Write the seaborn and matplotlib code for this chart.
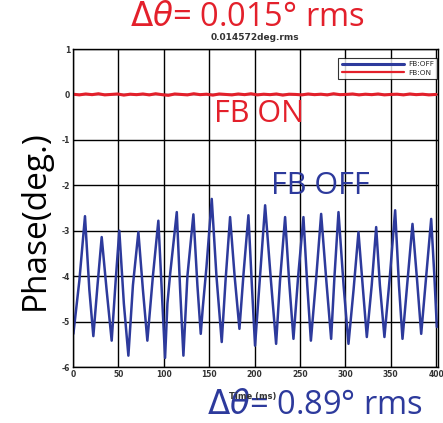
import matplotlib
matplotlib.use("Agg")
import matplotlib.pyplot as plt
import seaborn as sns
import pandas as pd

# ---- data ----
off_time = [0.4, 7, 13.2, 18, 22.4, 27, 31.6, 37, 42.6, 47, 51, 56, 61, 66, 72, 77, 81.9, 88, 94,
            101.4, 104, 107, 114.3, 118, 121.6, 126, 132.6, 137, 140.7, 143, 147, 152.8, 158,
            163.8, 168, 173, 178, 183.3, 188, 193.2, 197, 200.5, 206, 211.6, 218, 223.7, 228,
            233.6, 238, 242.8, 248, 253.8, 258, 262, 268, 273.3, 279, 284.3, 288, 292.4, 298,
            303.4, 309, 314.4, 319, 323.6, 329, 333.9, 338, 343, 349, 354.8, 359, 362.9, 368,
            373.9, 379, 383.5, 389, 394.5, 398, 400.7]
off_value = [-5.27, -4.1, -2.68, -4.3, -5.32, -4.2, -3.14, -4.3, -5.42, -4.1, -3.0, -4.6, -5.75,
             -4.2, -3.03, -4.3, -5.42, -4.0, -2.78, -5.8, -4.6, -3.95, -2.59, -4.3, -5.75, -4.0,
             -2.64, -4.2, -5.27, -4.68, -3.8, -2.30, -4.0, -5.45, -4.1, -2.70, -4.0, -5.16, -3.9,
             -2.66, -4.2, -5.53, -4.0, -2.44, -4.1, -5.49, -4.1, -2.70, -4.1, -5.38, -4.0, -2.70,
             -4.2, -5.42, -4.0, -2.63, -4.1, -5.38, -4.0, -2.59, -4.2, -5.49, -4.3, -3.03, -4.2,
             -5.34, -4.2, -2.92, -4.2, -5.34, -4.0, -2.55, -4.2, -5.38, -4.2, -2.85, -4.1, -5.27,
             -4.0, -2.74, -4.0, -5.12]
on_time = [0, 7, 14, 21, 28, 35, 42, 49, 56, 63, 70, 77, 84, 91, 98, 105, 112, 119, 126, 133,
           140, 147, 154, 161, 168, 175, 182, 189, 196, 203, 210, 217, 224, 231, 238, 245, 252,
           259, 266, 273, 280, 287, 294, 301, 308, 315, 322, 329, 336, 343, 350, 357, 364, 371,
           378, 385, 392, 400]
on_value = [0.005, -0.01, 0.01, -0.005, 0.015, -0.01, 0.00, 0.01, -0.015, 0.005, -0.005, 0.01,
            -0.01, 0.015, -0.005, -0.02, 0.01, 0.00, -0.01, 0.015, -0.005, 0.005, -0.015, 0.01,
            0.00, -0.01, 0.01, -0.005, 0.015, -0.01, 0.005, -0.005, 0.01, -0.015, 0.005, 0.00,
            -0.01, 0.01, -0.005, 0.005, -0.01, 0.015, -0.005, 0.00, 0.01, -0.01, 0.005, -0.005,
            0.01, -0.01, 0.00, 0.005, -0.01, 0.01, -0.005, 0.005, -0.01, 0.00]
series_names = ["FB:OFF", "FB:ON"]
x_ticks = [0, 50, 100, 150, 200, 250, 300, 350, 400]
y_ticks = [1, 0, -1, -2, -3, -4, -5, -6]

BLUE = "#2d3a9c"
RED = "#e3202b"

df = pd.concat([
    pd.DataFrame({"t": off_time, "v": off_value, "s": series_names[0]}),
    pd.DataFrame({"t": on_time, "v": on_value, "s": series_names[1]}),
])

sns.set_style("white")
plt.rcParams["mathtext.fontset"] = "dejavusans"
fig = plt.figure(figsize=(4.43, 4.23), dpi=100)
ax = fig.add_axes([73 / 443, 1 - 367 / 423, (438 - 73) / 443, (367 - 49) / 423])

sns.lineplot(data=df, x="t", y="v", hue="s", palette={series_names[0]: BLUE, series_names[1]: RED},
             ax=ax, sort=False, estimator=None, linewidth=1.6, legend=False)
for ln, lw in zip(ax.get_lines(), [1.8, 2.2]):
    ln.set_linewidth(lw)

ax.set_xlim(0, 402)
ax.set_ylim(-6, 1)
ax.set_xticks(x_ticks)
ax.set_yticks(y_ticks)
ax.set_xticklabels([str(v) for v in x_ticks], fontsize=5.5, fontweight="bold", color="#333333")
ax.set_yticklabels([str(v) for v in y_ticks], fontsize=5.5, fontweight="bold", color="#333333")
ax.tick_params(length=0, pad=2)
ax.grid(True, color="black", linewidth=1.0)
ax.set_axisbelow(True)
for sp in ax.spines.values():
    sp.set_color("black")
    sp.set_linewidth(1.0)
ax.set_xlabel("")
ax.set_ylabel("")

from matplotlib.lines import Line2D
handles = [Line2D([], [], color=BLUE, linewidth=2.2), Line2D([], [], color=RED, linewidth=1.6)]
leg = ax.legend(handles, series_names, loc="upper right", fontsize=5.3, frameon=True, fancybox=False,
                edgecolor="black", handlelength=8.5, borderpad=0.45, labelspacing=0.3,
                handletextpad=0.5, bbox_to_anchor=(1.0, 0.975), borderaxespad=0.1)
leg.get_frame().set_linewidth(0.8)

fs = "Open Sans"
fig.text(247 / 443, 1 - 18 / 423, r"$\Delta\theta$= 0.015° rms", color=RED, fontsize=23.5,
         ha="center", va="center", family=fs)
fig.text(255 / 443, 1 - 38 / 423, "0.014572deg.rms", color="#333333", fontsize=6.5,
         fontweight="bold", ha="center", va="center")
fig.text(259 / 443, 1 - 114 / 423, "FB ON", color=RED, fontsize=22, ha="center", va="center", family=fs)
fig.text(320 / 443, 1 - 186 / 423, "FB OFF", color=BLUE, fontsize=22, ha="center", va="center", family=fs)
fig.text(315 / 443, 1 - 405 / 423, r"$\Delta\theta$= 0.89° rms", color=BLUE, fontsize=23.5,
         ha="center", va="center", family=fs)
fig.text(253 / 443, 1 - 396 / 423, "Time (ms)", color="#333333", fontsize=6, fontweight="bold",
         ha="center", va="center")
fig.text(35 / 443, 1 - 220 / 423, "Phase(deg.)", color="black", fontsize=24, rotation=90,
         ha="center", va="center", family=fs)

fig.savefig("out.png", dpi=100)
